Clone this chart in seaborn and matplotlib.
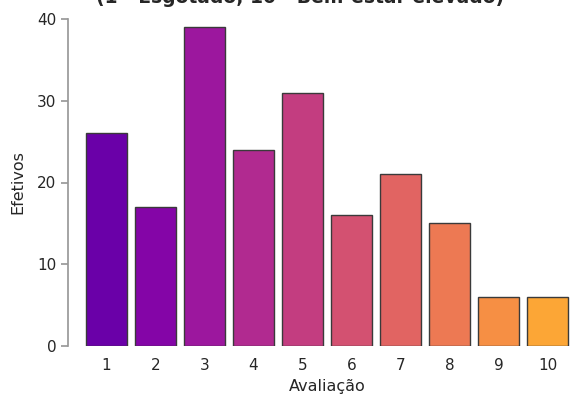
import numpy as np
import matplotlib
matplotlib.use("Agg")
import matplotlib.pyplot as plt
import seaborn as sns

avaliacao = ["1", "2", "3", "4", "5", "6", "7", "8", "9", "10"]
efetivos = [26, 17, 39, 24, 31, 16, 21, 15, 6, 6]

sns.set_theme(style="ticks")
plt.rcParams['font.family'] = ['DejaVu Sans']

cores = [plt.cm.plasma(v) for v in np.linspace(0.2, 0.8, len(avaliacao))]

fig = plt.figure(figsize=(5.71, 4.01), dpi=100)
ax = fig.add_axes([82 / 571, 55 / 401, 490 / 571, 327 / 401])

sns.barplot(x=avaliacao, y=efetivos, hue=avaliacao, palette=cores, legend=False,
            saturation=1, edgecolor="#3a3a3a", linewidth=1, width=0.82, ax=ax)

ax.set_ylim(0, 40)
ax.set_yticks([0, 10, 20, 30, 40])
ax.set_xlabel("Avaliação", fontsize=11.5, color="#262626")
ax.set_ylabel("Efetivos", fontsize=11.5, color="#262626", labelpad=8)
ax.tick_params(axis="y", labelsize=11, colors="#999999", labelcolor="#262626", length=5)
ax.tick_params(axis="x", labelsize=11, length=0, pad=9, labelcolor="#262626")
sns.despine(ax=ax, offset=10, bottom=True)
ax.spines["left"].set_color("#999999")

fig.text(300 / 571, 1.005, "(1 - Esgotado; 10 - Bem-estar elevado)", ha="center",
         va="center", fontsize=13.5, fontweight="bold", color="#262626")

fig.savefig("out.png", dpi=100)
